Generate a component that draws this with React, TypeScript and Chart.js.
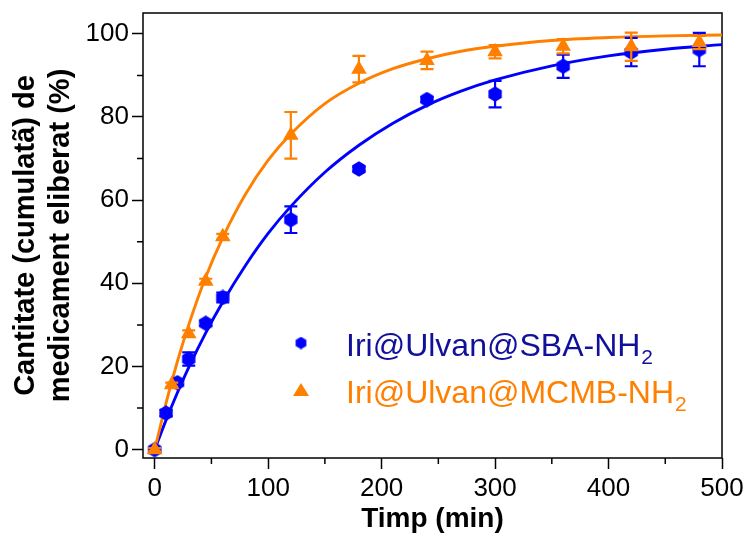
import React, { useEffect, useRef } from "react";
import { Chart, registerables } from "chart.js";

Chart.register(...registerables);

// ---- data ----
const blueTimes = [0, 10, 20, 30, 45, 60, 120, 180, 240, 300, 360, 420, 480];
const blueValues = [0, 8.8, 16.1, 21.8, 30.4, 36.6, 55.3, 67.5, 84.2, 85.5, 92.2, 95.6, 96.2];
const blueErrors = [0.4, 0.8, 0.6, 1.6, 0.6, 1.2, 3.2, 0.5, 0.6, 3.2, 2.8, 3.4, 4.0];

const orangeTimes = [0, 15, 30, 45, 60, 120, 180, 240, 300, 360, 420, 480];
const orangeValues = [0, 15.6, 27.9, 40.5, 51.2, 75.6, 91.5, 93.6, 95.7, 97.0, 96.9, 97.9];
const orangeErrors = [0.4, 0.5, 0.8, 0.6, 0.7, 5.6, 3.2, 2.1, 1.6, 1.7, 3.4, 1.6];

// fitted curves
const curveTimes = [0, 10, 20, 30, 45, 60, 80, 100, 120, 150, 180, 210, 240, 270, 300, 350, 400, 450, 500];
const blueCurve = [0, 7.1, 13.7, 19.8, 28.1, 35.5, 44.3, 52.0, 58.5, 66.7, 73.2, 78.5, 82.8, 86.2, 88.9, 92.3, 94.7, 96.3, 97.4];
const orangeCurve = [0, 11.2, 21.2, 30.0, 41.5, 51.0, 61.4, 69.6, 75.9, 83.2, 88.1, 91.6, 94.0, 95.8, 97.0, 98.4, 99.1, 99.5, 99.7];

const xMajorTicks = [0, 100, 200, 300, 400, 500];
const yMajorTicks = [0, 20, 40, 60, 80, 100];
const xMinorTicks = [50, 150, 250, 350, 450];
const yMinorTicks = [10, 30, 50, 70, 90];

const legendLabels = ["Iri@Ulvan@SBA-NH", "Iri@Ulvan@MCMB-NH"];
const legendSub = "2";
const yTitle = ["Cantitate (cumulatã) de", "medicament eliberat (%)"];
const xTitle = "Timp (min)";

const BLUE = "#0000FF";
const ORANGE = "#FF8000";
const BLUE_TEXT = "#10109a";
const FONT = "'Liberation Sans', Arial, sans-serif";

function makeHexagon(size: number, color: string): HTMLCanvasElement {
  const c = document.createElement("canvas");
  c.width = size;
  c.height = size;
  const g = c.getContext("2d")!;
  const r = size / 2;
  g.fillStyle = color;
  g.beginPath();
  for (let i = 0; i < 6; i++) {
    const a = (Math.PI / 3) * i - Math.PI / 2;
    const px = r + Math.cos(a) * (r - 0.3);
    const py = r + Math.sin(a) * (r - 0.3);
    if (i === 0) g.moveTo(px, py);
    else g.lineTo(px, py);
  }
  g.closePath();
  g.fill();
  return c;
}

export default function App() {
  const ref = useRef<HTMLCanvasElement | null>(null);

  useEffect(() => {
    if (!ref.current) return;
    const hex = makeHexagon(16, BLUE);
    const hexLegend = makeHexagon(13, BLUE);

    const errorBars = {
      id: "errorBars",
      beforeDatasetDraw(chart: any, args: any) {
        const ds = chart.data.datasets[args.index];
        if (!ds.errors) return;
        const ctx = chart.ctx;
        const xs = chart.scales.x;
        const ys = chart.scales.y;
        ctx.save();
        ctx.strokeStyle = ds.borderColor;
        ctx.lineWidth = 2.2;
        ds.data.forEach((p: any, i: number) => {
          const e = ds.errors[i];
          const px = xs.getPixelForValue(p.x);
          const top = ys.getPixelForValue(p.y + e);
          const bot = ys.getPixelForValue(p.y - e);
          ctx.beginPath();
          ctx.moveTo(px, top);
          ctx.lineTo(px, bot);
          ctx.moveTo(px - 6.5, top);
          ctx.lineTo(px + 6.5, top);
          ctx.moveTo(px - 6.5, bot);
          ctx.lineTo(px + 6.5, bot);
          ctx.stroke();
        });
        ctx.restore();
      },
    };

    const frame = {
      id: "frame",
      beforeDatasetsDraw(chart: any) {
        const { ctx, chartArea: a } = chart;
        const xs = chart.scales.x;
        const ys = chart.scales.y;
        ctx.save();
        ctx.strokeStyle = "#000";
        ctx.lineWidth = 1.5;
        ctx.strokeRect(a.left, a.top, a.right - a.left, a.bottom - a.top);
        ctx.beginPath();
        xMinorTicks.forEach((v) => {
          const px = xs.getPixelForValue(v);
          ctx.moveTo(px, a.bottom);
          ctx.lineTo(px, a.bottom + 6);
        });
        yMinorTicks.forEach((v) => {
          const py = ys.getPixelForValue(v);
          ctx.moveTo(a.left, py);
          ctx.lineTo(a.left - 6, py);
        });
        ctx.stroke();
        ctx.restore();
      },
    };

    const legend = {
      id: "customLegend",
      afterDraw(chart: any) {
        const ctx = chart.ctx;
        ctx.save();
        ctx.drawImage(hexLegend, 301 - 6.5, 343 - 6.5);
        ctx.fillStyle = ORANGE;
        ctx.beginPath();
        ctx.moveTo(301, 383);
        ctx.lineTo(309, 396);
        ctx.lineTo(293, 396);
        ctx.closePath();
        ctx.fill();
        const rows = [
          { y: 356, color: BLUE_TEXT, label: legendLabels[0] },
          { y: 403, color: ORANGE, label: legendLabels[1] },
        ];
        rows.forEach((r) => {
          ctx.fillStyle = r.color;
          ctx.textBaseline = "alphabetic";
          ctx.textAlign = "left";
          ctx.font = `32px ${FONT}`;
          ctx.fillText(r.label, 346, r.y);
          const w = ctx.measureText(r.label).width;
          ctx.font = `21px ${FONT}`;
          ctx.fillText(legendSub, 346 + w + 1, r.y + 8);
        });
        ctx.restore();
      },
    };

    const chart = new Chart(ref.current, {
      type: "scatter",
      data: {
        datasets: [
          {
            label: "Iri@Ulvan@MCMB-NH2",
            data: orangeTimes.map((t, i) => ({ x: t, y: orangeValues[i] })),
            errors: orangeErrors,
            showLine: false,
            pointStyle: "triangle",
            pointRadius: 9,
            pointBackgroundColor: ORANGE,
            pointBorderColor: ORANGE,
            pointBorderWidth: 0,
            borderColor: ORANGE,
            backgroundColor: ORANGE,
          } as any,
          {
            label: "Iri@Ulvan@SBA-NH2",
            data: blueTimes.map((t, i) => ({ x: t, y: blueValues[i] })),
            errors: blueErrors,
            showLine: false,
            pointStyle: hex,
            pointRadius: 8,
            borderColor: BLUE,
            backgroundColor: BLUE,
          } as any,
          {
            label: "fit orange",
            data: curveTimes.map((t, i) => ({ x: t, y: orangeCurve[i] })),
            showLine: true,
            pointRadius: 0,
            borderColor: ORANGE,
            borderWidth: 2.9,
            cubicInterpolationMode: "monotone",
          } as any,
          {
            label: "fit blue",
            data: curveTimes.map((t, i) => ({ x: t, y: blueCurve[i] })),
            showLine: true,
            pointRadius: 0,
            borderColor: BLUE,
            borderWidth: 2.9,
            cubicInterpolationMode: "monotone",
          } as any,
        ],
      },
      options: {
        animation: false,
        responsive: true,
        maintainAspectRatio: false,
        layout: { padding: { top: 13, right: 24, left: 0, bottom: 0 } },
        plugins: {
          legend: { display: false },
          tooltip: { enabled: false },
        },
        scales: {
          x: {
            type: "linear",
            min: -10.3,
            max: 500,
            afterBuildTicks(scale: any) {
              scale.ticks = xMajorTicks.map((v) => ({ value: v }));
            },
            afterFit(scale: any) {
              scale.height = 79;
              scale.paddingLeft = 0;
              scale.paddingRight = 0;
            },
            ticks: {
              color: "#000",
              font: { family: FONT, size: 26 },
              padding: 4,
              maxRotation: 0,
              autoSkip: false,
            },
            grid: {
              display: true,
              drawOnChartArea: false,
              drawTicks: true,
              tickLength: 11,
              tickWidth: 1.5,
              tickColor: "#000",
            },
            border: { display: false },
            title: {
              display: true,
              text: xTitle,
              color: "#000",
              font: { family: FONT, size: 28, weight: "bold" },
              padding: { top: 0, bottom: 1 },
            },
          },
          y: {
            type: "linear",
            min: -2,
            max: 105,
            afterBuildTicks(scale: any) {
              scale.ticks = yMajorTicks.map((v) => ({ value: v }));
            },
            afterFit(scale: any) {
              scale.width = 143;
              scale.paddingTop = 0;
              scale.paddingBottom = 0;
            },
            ticks: {
              color: "#000",
              font: { family: FONT, size: 26 },
              padding: 3,
              autoSkip: false,
            },
            grid: {
              display: true,
              drawOnChartArea: false,
              drawTicks: true,
              tickLength: 11,
              tickWidth: 1.5,
              tickColor: "#000",
            },
            border: { display: false },
            title: {
              display: true,
              text: yTitle,
              color: "#000",
              font: { family: FONT, size: 29, weight: "bold", lineHeight: 1.2 },
              padding: { top: 9, bottom: 0 },
            },
          },
        },
      } as any,
      plugins: [frame, errorBars, legend],
    });
    return () => chart.destroy();
  }, []);

  return (
    <div style={{ position: "fixed", left: 0, top: 0, width: 746, height: 537, background: "#fff" }}>
      <canvas ref={ref} />
    </div>
  );
}
